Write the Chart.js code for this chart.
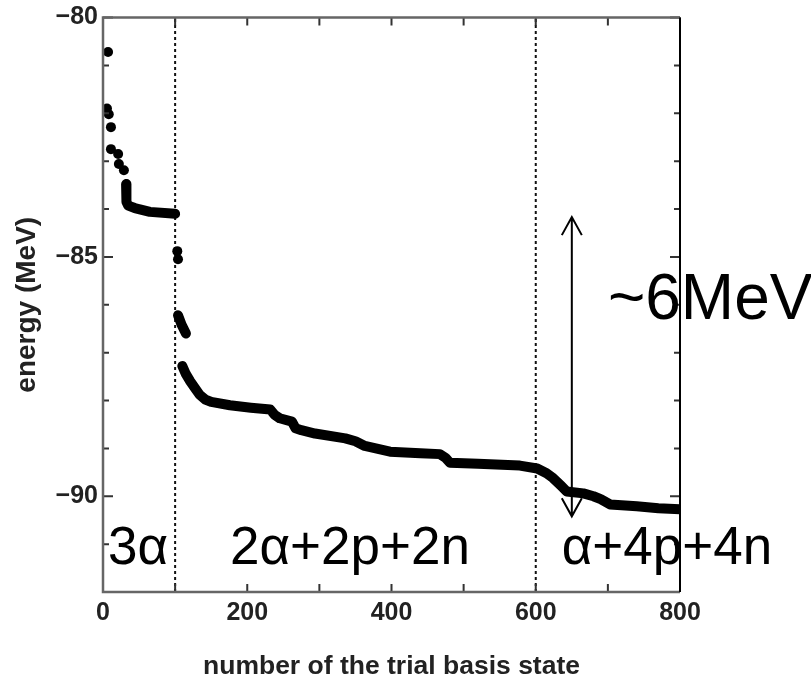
<!DOCTYPE html>
<html>
<head>
<meta charset="utf-8">
<script src="https://cdn.jsdelivr.net/npm/chart.js@4.4.0/dist/chart.umd.min.js"></script>
<style>
body { margin: 0; background: #fff; }
canvas { display: block; }
</style>
</head>
<body>
<canvas id="c" width="811" height="685"></canvas>
<script>
// isolated states (3a block and the first few after the divider)
var dotN = [7, 5.5, 8, 11, 11, 21, 22, 29, 103, 104];
var dotE = [-80.72, -81.9, -82.02, -82.29, -82.75, -82.85, -83.06, -83.19, -84.88, -85.05];

// 3a plateau
var plateauN = [32, 32.5, 35, 44, 65, 100];
var plateauE = [-83.48, -83.85, -83.93, -83.98, -84.06, -84.1];

// short run right after n = 100
var bridgeN = [104, 109, 115];
var bridgeE = [-86.22, -86.42, -86.6];

// main sequence
var mainN = [110, 115, 121, 128, 134, 142, 150, 176, 205, 232, 238, 245, 262, 267, 275, 294, 336, 350, 363, 398,
	440, 467, 475, 481, 520, 578, 602, 615, 624, 635, 643, 666, 680, 690, 703, 740, 770, 800];
var mainE = [-87.28, -87.45, -87.6, -87.75, -87.88, -87.98, -88.03, -88.1, -88.15, -88.19, -88.3, -88.37, -88.44, -88.58, -88.62, -88.69, -88.79, -88.85, -88.95, -89.07,
	-89.1, -89.12, -89.2, -89.3, -89.32, -89.36, -89.42, -89.52, -89.62, -89.78, -89.9, -89.94, -90.0, -90.06, -90.17, -90.21, -90.25, -90.27];

// channel dividers
var dividerN = [100, 600];

// ~6MeV arrow
var arrowN = 650;
var arrowTopE = -84.17;
var arrowBottomE = -90.42;

// text annotations
var regionLabels = ['3α', '2α+2p+2n', 'α+4p+4n'];
var regionLabelN = [7, 176, 636];
var regionLabelE = -91.42;
var gapLabel = '~6MeV';
var gapLabelN = 700;
var gapLabelE = -86.29;

var xTickLabels = [0, 200, 400, 600, 800];
var yTickLabels = [-80, -85, -90];

function pairs(xs, ys) {
	return xs.map(function (x, i) { return { x: x, y: ys[i] }; });
}

var datasets = [];
datasets.push({ data: pairs(dotN, dotE), showLine: false, pointRadius: 5, pointBackgroundColor: '#000', pointBorderWidth: 0, order: 1 });
[[plateauN, plateauE], [bridgeN, bridgeE], [mainN, mainE]].forEach(function (s) {
	datasets.push({ data: pairs(s[0], s[1]), showLine: true, borderColor: '#000', borderWidth: 10, pointRadius: 0,
		borderCapStyle: 'round', borderJoinStyle: 'round', tension: 0, order: 1 });
});
dividerN.forEach(function (n) {
	datasets.push({ data: [{ x: n, y: -92 }, { x: n, y: -80 }], showLine: true, borderColor: '#111', borderWidth: 2,
		borderDash: [3, 3], pointRadius: 0, order: 5 });
});

var annotate = {
	id: 'annotate',
	afterDraw: function (chart) {
		var ctx = chart.ctx, a = chart.chartArea, xs = chart.scales.x, ys = chart.scales.y;
		ctx.save();
		// inward ticks
		ctx.strokeStyle = '#333';
		ctx.lineWidth = 2;
		ctx.beginPath();
		xs.ticks.forEach(function (t) {
			var px = xs.getPixelForValue(t.value);
			ctx.moveTo(px, a.bottom); ctx.lineTo(px, a.bottom - 8);
			ctx.moveTo(px, a.top); ctx.lineTo(px, a.top + 8);
		});
		ys.ticks.forEach(function (t) {
			var py = ys.getPixelForValue(t.value);
			var len = yTickLabels.indexOf(t.value) >= 0 ? 10 : 6;
			ctx.moveTo(a.left, py); ctx.lineTo(a.left + len, py);
			ctx.moveTo(a.right, py); ctx.lineTo(a.right - len, py);
		});
		ctx.stroke();
		// frame
		ctx.strokeStyle = '#666';
		ctx.lineWidth = 2.5;
		ctx.beginPath();
		ctx.moveTo(a.right, a.top); ctx.lineTo(a.left, a.top); ctx.lineTo(a.left, a.bottom); ctx.lineTo(a.right, a.bottom);
		ctx.stroke();
		ctx.strokeStyle = '#000';
		ctx.lineWidth = 2;
		ctx.beginPath();
		ctx.moveTo(a.right, a.top); ctx.lineTo(a.right, a.bottom);
		ctx.stroke();
		// arrow
		var ax = xs.getPixelForValue(arrowN);
		var at = ys.getPixelForValue(arrowTopE);
		var ab = ys.getPixelForValue(arrowBottomE);
		ctx.lineWidth = 2;
		ctx.beginPath();
		ctx.moveTo(ax, at); ctx.lineTo(ax, ab);
		ctx.moveTo(ax - 10, at + 18); ctx.lineTo(ax, at); ctx.lineTo(ax + 10, at + 18);
		ctx.moveTo(ax - 10, ab - 18); ctx.lineTo(ax, ab); ctx.lineTo(ax + 10, ab - 18);
		ctx.stroke();
		// labels
		ctx.fillStyle = '#000';
		ctx.textBaseline = 'alphabetic';
		ctx.textAlign = 'left';
		ctx.font = '53px "Liberation Sans", Arial, sans-serif';
		regionLabels.forEach(function (s, i) {
			ctx.fillText(s, xs.getPixelForValue(regionLabelN[i]), ys.getPixelForValue(regionLabelE));
		});
		ctx.font = '64px "Liberation Sans", Arial, sans-serif';
		ctx.fillText(gapLabel, xs.getPixelForValue(gapLabelN), ys.getPixelForValue(gapLabelE));
		ctx.restore();
	}
};

new Chart(document.getElementById('c'), {
	type: 'scatter',
	data: { datasets: datasets },
	options: {
		responsive: false,
		animation: false,
		devicePixelRatio: 1,
		layout: { padding: { left: 0, right: 131, top: 15, bottom: 0 } },
		plugins: { legend: { display: false }, tooltip: { enabled: false } },
		scales: {
			x: {
				type: 'linear', min: 0, max: 800,
				grid: { display: false, drawTicks: false },
				border: { display: false },
				ticks: {
					stepSize: 100, padding: 9, color: '#222',
					font: { family: '"Liberation Sans", Arial, sans-serif', size: 25, weight: 'bold', lineHeight: 1 },
					callback: function (v) { return xTickLabels.indexOf(v) >= 0 ? String(v) : ''; }
				},
				title: {
					display: true, text: 'number of the trial basis state', color: '#222',
					font: { family: '"Liberation Sans", Arial, sans-serif', size: 26.5, weight: 'bold' },
					padding: { top: 0, bottom: 2 }
				},
				afterFit: function (s) { s.height = 93; }
			},
			y: {
				type: 'linear', min: -92, max: -80,
				grid: { display: false, drawTicks: false },
				border: { display: false },
				ticks: {
					stepSize: 1, padding: 5, color: '#222',
					font: { family: '"Liberation Sans", Arial, sans-serif', size: 25, weight: 'bold', lineHeight: 1 },
					callback: function (v) { return yTickLabels.indexOf(v) >= 0 ? '\u2212' + Math.abs(v) : ''; }
				},
				title: {
					display: true, text: 'energy (MeV)', color: '#222',
					font: { family: '"Liberation Sans", Arial, sans-serif', size: 28, weight: 'bold' },
					padding: { top: 10, bottom: 0 }
				},
				afterFit: function (s) { s.width = 103; }
			}
		}
	},
	plugins: [annotate]
});
</script>
</body>
</html>
